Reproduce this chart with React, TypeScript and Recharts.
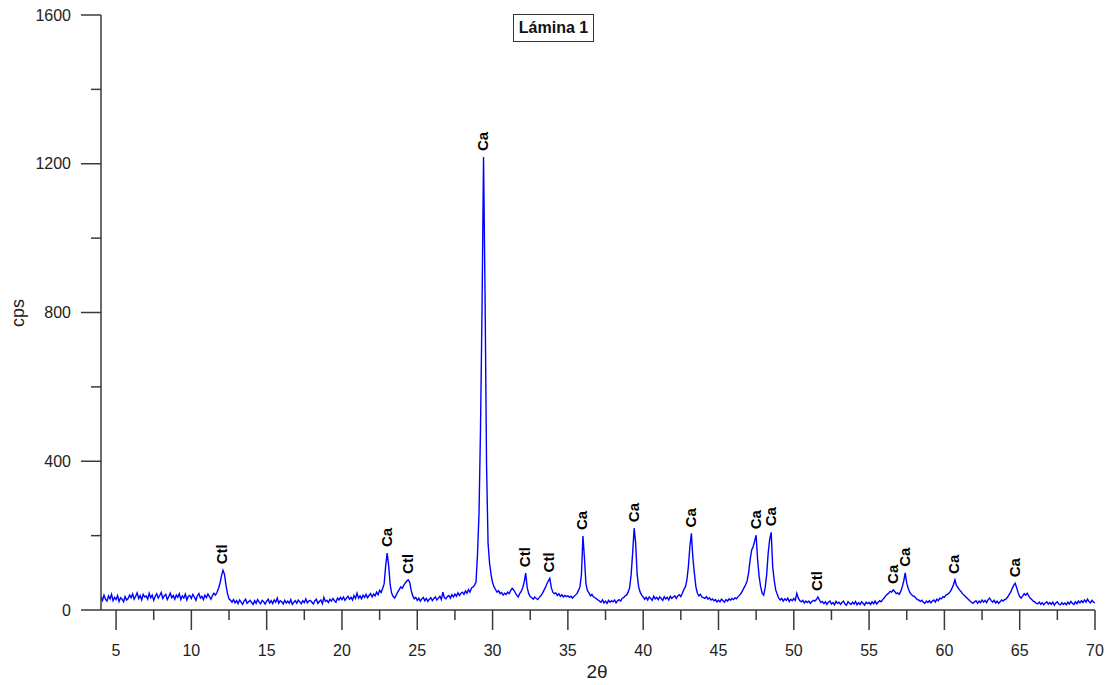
import React from 'react';
import { ComposedChart, Line, XAxis, YAxis, ReferenceDot } from 'recharts';

// 2θ scan: starts at 4.0°, step 0.1°, one cps value per step (rows = 1 degree each)
const SCAN_START = 4.0;
const SCAN_STEP = 0.1;

const cps: number[] = [
  36, 26, 40, 29, 24, 38, 30, 42, 25, 34, // 4
  28, 39, 23, 33, 29, 22, 36, 27, 31, 40, // 5
  33, 43, 29, 37, 46, 31, 39, 27, 42, 35, // 6
  38, 29, 45, 33, 40, 26, 37, 44, 32, 39, // 7
  47, 31, 38, 42, 28, 36, 45, 33, 39, 29, // 8
  40, 34, 44, 28, 38, 32, 43, 27, 37, 39, // 9
  31, 42, 35, 26, 38, 44, 32, 37, 28, 40, // 10
  33, 43, 36, 29, 39, 45, 40, 47, 58, 72, // 11
  92, 107, 96, 66, 44, 30, 26, 21, 28, 19, // 12
  25, 17, 27, 21, 15, 24, 29, 18, 22, 26, // 13
  20, 15, 25, 18, 28, 21, 17, 26, 22, 16, // 14
  24, 29, 19, 25, 17, 27, 21, 32, 18, 25, // 15
  22, 16, 26, 19, 24, 18, 28, 15, 21, 25, // 16
  18, 27, 22, 17, 25, 20, 30, 19, 24, 26, // 17
  21, 16, 25, 29, 18, 23, 27, 17, 34, 23, // 18
  26, 20, 29, 24, 31, 25, 21, 32, 27, 34, // 19
  28, 35, 26, 32, 37, 29, 34, 27, 39, 31, // 20
  45, 32, 38, 30, 40, 34, 42, 33, 39, 44, // 21
  35, 43, 38, 48, 41, 53, 47, 58, 70, 118, // 22
  153, 120, 68, 45, 36, 32, 40, 48, 55, 62, // 23
  58, 66, 72, 78, 81, 74, 52, 38, 30, 34, // 24
  26, 32, 24, 30, 34, 25, 31, 23, 29, 33, // 25
  25, 31, 35, 27, 32, 37, 28, 48, 33, 30, // 26
  36, 39, 32, 41, 35, 43, 37, 46, 39, 45, // 27
  48, 42, 51, 45, 55, 48, 59, 62, 67, 75, // 28
  150, 260, 490, 810, 1218, 850, 390, 180, 126, 95, // 29
  73, 62, 55, 48, 52, 44, 47, 40, 45, 42, // 30
  48, 44, 52, 58, 54, 47, 40, 35, 44, 50, // 31
  60, 75, 99, 60, 44, 36, 33, 29, 35, 31, // 32
  28, 34, 38, 44, 52, 60, 70, 78, 85, 60, // 33
  48, 44, 46, 39, 44, 37, 41, 35, 39, 36, // 34
  38, 34, 37, 32, 36, 40, 44, 52, 62, 95, // 35
  199, 140, 70, 52, 46, 38, 42, 35, 33, 30, // 36
  27, 24, 21, 27, 19, 24, 18, 26, 21, 25, // 37
  22, 27, 19, 25, 28, 24, 31, 33, 38, 40, // 38
  48, 60, 95, 153, 220, 180, 95, 62, 48, 40, // 39
  35, 29, 34, 27, 35, 31, 26, 37, 30, 34, // 40
  28, 35, 31, 26, 36, 30, 34, 27, 37, 31, // 41
  35, 38, 31, 38, 41, 36, 45, 55, 62, 80, // 42
  116, 170, 206, 140, 99, 62, 45, 38, 42, 35, // 43
  33, 31, 36, 29, 33, 27, 30, 25, 28, 22, // 44
  26, 22, 29, 25, 21, 28, 24, 30, 26, 31, // 45
  28, 33, 30, 36, 40, 45, 52, 60, 68, 78, // 46
  100, 135, 161, 170, 185, 201, 134, 90, 62, 45, // 47
  40, 60, 95, 153, 190, 209, 116, 80, 54, 42, // 48
  32, 27, 31, 24, 30, 26, 32, 23, 29, 25, // 49
  31, 26, 45, 32, 25, 22, 26, 19, 24, 20, // 50
  24, 18, 23, 26, 24, 28, 35, 27, 20, 23, // 51
  17, 22, 15, 21, 24, 16, 20, 14, 23, 18, // 52
  21, 15, 20, 24, 16, 13, 22, 18, 15, 21, // 53
  16, 23, 14, 20, 15, 22, 18, 13, 21, 17, // 54
  20, 15, 22, 17, 24, 16, 21, 25, 22, 28, // 55
  32, 38, 42, 45, 50, 48, 54, 50, 44, 46, // 56
  42, 50, 62, 78, 100, 72, 58, 48, 42, 38, // 57
  37, 32, 28, 27, 23, 26, 21, 18, 24, 20, // 58
  25, 19, 24, 27, 21, 29, 25, 32, 30, 36, // 59
  34, 40, 42, 45, 50, 58, 68, 81, 66, 60, // 60
  54, 50, 44, 40, 36, 32, 28, 24, 21, 18, // 61
  22, 25, 18, 24, 20, 27, 21, 26, 20, 28, // 62
  32, 26, 21, 26, 19, 24, 18, 22, 27, 24, // 63
  28, 30, 35, 42, 48, 58, 66, 72, 60, 46, // 64
  36, 32, 38, 44, 40, 45, 38, 32, 28, 24, // 65
  22, 18, 17, 21, 15, 20, 14, 19, 22, 16, // 66
  20, 15, 21, 13, 19, 22, 16, 14, 20, 15, // 67
  19, 14, 21, 16, 23, 18, 15, 22, 17, 24, // 68
  19, 25, 20, 27, 21, 29, 23, 19, 26, 21, // 69
  19, // 70
];

// Peak annotations
const peakLabels: string[] = ['Ctl', 'Ca', 'Ctl', 'Ca', 'Ctl', 'Ctl', 'Ca', 'Ca', 'Ca', 'Ca', 'Ca', 'Ctl', 'Ca', 'Ca', 'Ca', 'Ca'];
const peakTheta: number[] = [12.1, 23.0, 24.4, 29.4, 32.2, 33.8, 36.0, 39.4, 43.2, 47.5, 48.5, 51.6, 56.6, 57.4, 60.7, 64.7];
const peakCps: number[] = [107, 153, 81, 1218, 99, 85, 199, 220, 206, 201, 209, 35, 54, 100, 81, 72];

const xTicks: number[] = [5, 7.5, 10, 12.5, 15, 17.5, 20, 22.5, 25, 27.5, 30, 32.5, 35, 37.5, 40, 42.5, 45, 47.5, 50, 52.5, 55, 57.5, 60, 62.5, 65, 67.5, 70];
const yTicks: number[] = [0, 200, 400, 600, 800, 1000, 1200, 1400, 1600];

const title = 'Lámina 1';
const xLabel = '2θ';
const yLabel = 'cps';

const FONT = '"Liberation Sans", Arial, sans-serif';
const AXIS = '#3a3a3a';

const data = cps.map((v, i) => ({ x: Math.round((SCAN_START + i * SCAN_STEP) * 10) / 10, y: v }));

const XTick = (props: any) => {
  const { x, y, payload } = props;
  const v = payload.value as number;
  const major = Math.abs(v / 5 - Math.round(v / 5)) < 1e-6;
  return (
    <g>
      <line x1={x} y1={y} x2={x} y2={y + (major ? 20 : 10)} stroke={AXIS} strokeWidth={1.5} />
      {major && (
        <text x={x} y={y + 40} textAnchor="middle" dominantBaseline="central" fontSize={16} fill="#222" fontFamily={FONT}>
          {v}
        </text>
      )}
    </g>
  );
};

const YTick = (props: any) => {
  const { x, y, payload } = props;
  const v = payload.value as number;
  const major = v % 400 === 0;
  return (
    <g>
      <line x1={x - (major ? 20 : 10)} y1={y} x2={x} y2={y} stroke={AXIS} strokeWidth={1.5} />
      {major && (
        <text x={x - 30} y={y} textAnchor="end" dominantBaseline="central" fontSize={16} fill="#222" fontFamily={FONT}>
          {v}
        </text>
      )}
    </g>
  );
};

const makeAnno = (text: string) => (p: any) => {
  const cx = p.cx - 1;
  const cy = p.cy - 6;
  return (
    <text
      x={cx}
      y={cy}
      transform={`rotate(-90 ${cx} ${cy})`}
      textAnchor="start"
      dominantBaseline="central"
      fontSize={15}
      fontWeight="bold"
      fill="#000"
      fontFamily={FONT}
    >
      {text}
    </text>
  );
};

export default function App() {
  return (
    <div style={{ position: 'absolute', left: 0, top: 0, width: 1105, height: 685, background: '#fff', fontFamily: FONT }}>
      <ComposedChart width={1105} height={685} data={data} margin={{ top: 15, right: 10, bottom: 0, left: 0 }}>
        <XAxis
          dataKey="x"
          type="number"
          domain={[4, 70]}
          ticks={xTicks}
          interval={0}
          height={75}
          tickLine={false}
          tickSize={0}
          tickMargin={0}
          tick={<XTick />}
          axisLine={{ stroke: AXIS, strokeWidth: 1.5 }}
          allowDataOverflow
        />
        <YAxis
          type="number"
          domain={[0, 1600]}
          ticks={yTicks}
          interval={0}
          width={101}
          tickLine={false}
          tickSize={0}
          tickMargin={0}
          tick={<YTick />}
          axisLine={{ stroke: AXIS, strokeWidth: 1.5 }}
          allowDataOverflow
        />
        <Line
          type="linear"
          dataKey="y"
          stroke="#0000ff"
          strokeWidth={1.4}
          dot={false}
          activeDot={false}
          isAnimationActive={false}
        />
        {peakLabels.map((t, i) => (
          <ReferenceDot key={i} x={peakTheta[i]} y={peakCps[i]} r={0} shape={makeAnno(t)} ifOverflow="visible" />
        ))}
      </ComposedChart>
      <div
        style={{
          position: 'absolute',
          left: 513,
          top: 14,
          width: 81,
          height: 28,
          boxSizing: 'border-box',
          border: '1.5px solid #333',
          fontWeight: 'bold',
          fontSize: 16,
          color: '#111',
          display: 'flex',
          alignItems: 'center',
          justifyContent: 'center',
          background: '#fff',
        }}
      >
        {title}
      </div>
      <div
        style={{
          position: 'absolute',
          left: 18,
          top: 313,
          transform: 'translate(-50%, -50%) rotate(-90deg)',
          fontSize: 18,
          color: '#222',
          whiteSpace: 'nowrap',
        }}
      >
        {yLabel}
      </div>
      <div
        style={{
          position: 'absolute',
          left: 597,
          top: 672,
          transform: 'translate(-50%, -50%)',
          fontSize: 19,
          color: '#222',
          whiteSpace: 'nowrap',
        }}
      >
        {xLabel}
      </div>
    </div>
  );
}
